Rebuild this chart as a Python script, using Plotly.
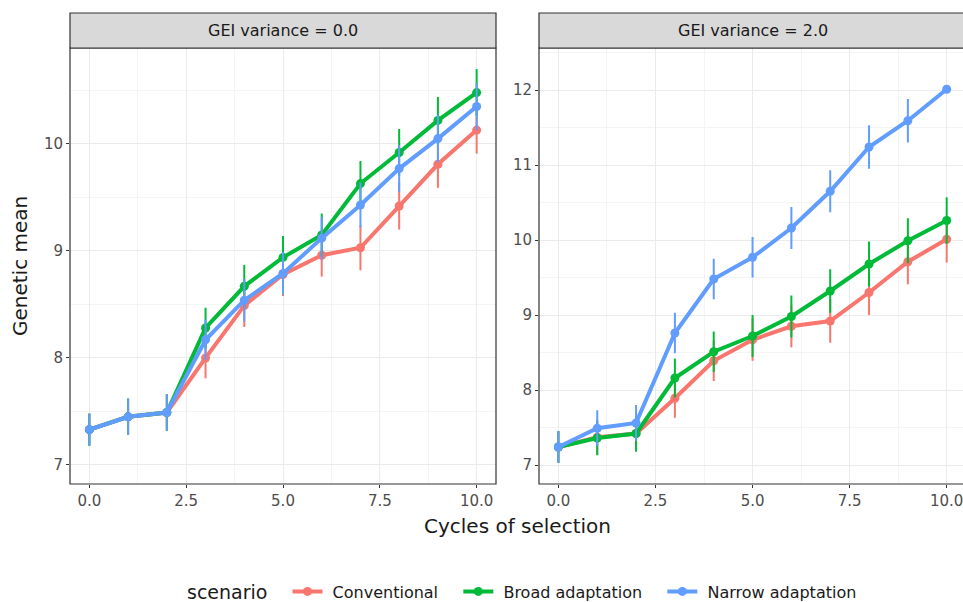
import plotly.graph_objects as go

cycles = list(range(11))
scenarios = ["Conventional", "Broad adaptation", "Narrow adaptation"]
colors = ["#F8766D", "#00BA38", "#619CFF"]
panels = ["GEI variance = 0.0", "GEI variance = 2.0"]

left_conv = [7.33, 7.45, 7.49, 8.00, 8.49, 8.78, 8.96, 9.03, 9.42, 9.81, 10.13]
left_broad = [7.33, 7.45, 7.49, 8.28, 8.67, 8.94, 9.15, 9.63, 9.92, 10.22, 10.48]
left_narrow = [7.33, 7.45, 7.49, 8.17, 8.54, 8.79, 9.12, 9.43, 9.77, 10.05, 10.35]
left_err = [0.15, 0.17, 0.17, 0.19, 0.20, 0.20, 0.20, 0.21, 0.22, 0.22, 0.22]

right_conv = [7.24, 7.37, 7.42, 7.89, 8.39, 8.67, 8.85, 8.92, 9.30, 9.71, 10.01]
right_broad = [7.24, 7.36, 7.42, 8.16, 8.51, 8.72, 8.98, 9.32, 9.68, 9.99, 10.26]
right_narrow = [7.24, 7.49, 7.56, 8.76, 9.48, 9.77, 10.16, 10.65, 11.24, 11.59, 12.01]
right_err = [0.21, 0.23, 0.24, 0.26, 0.27, 0.28, 0.28, 0.29, 0.30, 0.30, 0.31]
right_err_narrow = [0.21, 0.24, 0.24, 0.27, 0.27, 0.27, 0.28, 0.28, 0.29, 0.29, 0.0]

x_tick_vals = [0, 2.5, 5, 7.5, 10]
x_tick_text = ["0.0", "2.5", "5.0", "7.5", "10.0"]

data = {
    0: ([left_conv, left_broad, left_narrow], [left_err, left_err, left_err]),
    1: ([right_conv, right_broad, right_narrow], [right_err, right_err, right_err_narrow]),
}

FONT = "DejaVu Sans, Liberation Sans, Arial"
W, H = 963, 602
ml, mt, mb = 70, 48, 118
pw = W - ml
ph = H - mt - mb
NB = "\u00a0"

fig = go.Figure()
for p in (0, 1):
    vals, errs = data[p]
    xa = "x" if p == 0 else "x2"
    ya = "y" if p == 0 else "y2"
    for i, name in enumerate(scenarios):
        fig.add_trace(go.Scatter(
            x=cycles, y=vals[i], name=NB + name + NB * 3, mode="lines+markers",
            xaxis=xa, yaxis=ya, legendgroup=name, showlegend=(p == 0),
            line=dict(color=colors[i], width=4),
            marker=dict(color=colors[i], size=9),
            error_y=dict(type="data", array=errs[i], visible=True,
                         color=colors[i], thickness=2, width=0),
        ))

axis_common = dict(
    showgrid=True, gridcolor="#EBEBEB", gridwidth=1.1, zeroline=False,
    ticks="outside", ticklen=3, tickcolor="#333333", tickwidth=1,
    tickfont=dict(family=FONT, size=15, color="#4D4D4D"),
    showline=False, ticklabeloverflow="allow",
)
minor_x = dict(showgrid=True, gridcolor="#F4F4F4", tickvals=[1.25, 3.75, 6.25, 8.75], ticks="")
x1_dom = [0, (496 - ml) / pw]
x2_dom = [(539 - ml) / pw, 1]

fig.update_layout(
    width=W, height=H,
    margin=dict(l=ml, r=0, t=mt, b=mb),
    paper_bgcolor="white", plot_bgcolor="white",
    font=dict(family=FONT, color="#1A1A1A"),
    xaxis=dict(domain=x1_dom, range=[-0.5, 10.5], tickvals=x_tick_vals, ticktext=x_tick_text,
               minor=minor_x, anchor="y", **axis_common),
    xaxis2=dict(domain=x2_dom, range=[-0.5, 10.42], tickvals=x_tick_vals, ticktext=x_tick_text,
                minor=minor_x, anchor="y2", **axis_common),
    yaxis=dict(domain=[0, 1], range=[6.822, 10.897], tickvals=[7, 8, 9, 10],
               minor=dict(showgrid=True, gridcolor="#F4F4F4", tickvals=[7.5, 8.5, 9.5, 10.5], ticks=""),
               anchor="x", **axis_common),
    yaxis2=dict(domain=[0, 1], range=[6.747, 12.56], tickvals=[7, 8, 9, 10, 11, 12],
                minor=dict(showgrid=True, gridcolor="#F4F4F4", tickvals=[7.5, 8.5, 9.5, 10.5, 11.5, 12.5], ticks=""),
                anchor="x2", **axis_common),
    legend=dict(orientation="h", x=185 / W, xanchor="left", xref="container",
                y=(H - 592) / H, yanchor="middle", yref="container",
                title=dict(text="scenario" + NB * 2, side="left", font=dict(size=19, color="#1A1A1A")),
                font=dict(size=16, color="#1A1A1A"), itemwidth=30, bgcolor="rgba(0,0,0,0)"),
)

strip_h = 35 / ph
for p, (xr, yr) in enumerate([("x domain", "y domain"), ("x2 domain", "y2 domain")]):
    x1 = 1 if p == 0 else 1.01
    fig.add_shape(type="rect", xref=xr, yref=yr, x0=0, x1=x1, y0=0, y1=1,
                  line=dict(color="#333333", width=1.2), fillcolor="rgba(0,0,0,0)", layer="above")
    fig.add_shape(type="rect", xref=xr, yref=yr, x0=0, x1=x1, y0=1, y1=1 + strip_h,
                  line=dict(color="#333333", width=1.2), fillcolor="#D9D9D9", layer="above")
    xc = 0.5 if p == 0 else (752.5 - 539) / (963 - 539)
    fig.add_annotation(xref=xr, yref=yr, x=xc, y=1 + strip_h / 2, text=panels[p],
                       showarrow=False, font=dict(size=16, color="#1A1A1A"),
                       xanchor="center", yanchor="middle")

fig.add_annotation(xref="paper", yref="paper", x=(517 - ml) / pw, y=(484 - 526) / ph,
                   text="Cycles of selection", showarrow=False,
                   font=dict(size=20, color="#1A1A1A"), xanchor="center", yanchor="middle")
fig.add_annotation(xref="paper", yref="paper", x=(20 - ml) / pw, y=0.5,
                   text="Genetic mean", showarrow=False, textangle=-90,
                   font=dict(size=20, color="#1A1A1A"), xanchor="center", yanchor="middle")

fig.write_html("out.html")
